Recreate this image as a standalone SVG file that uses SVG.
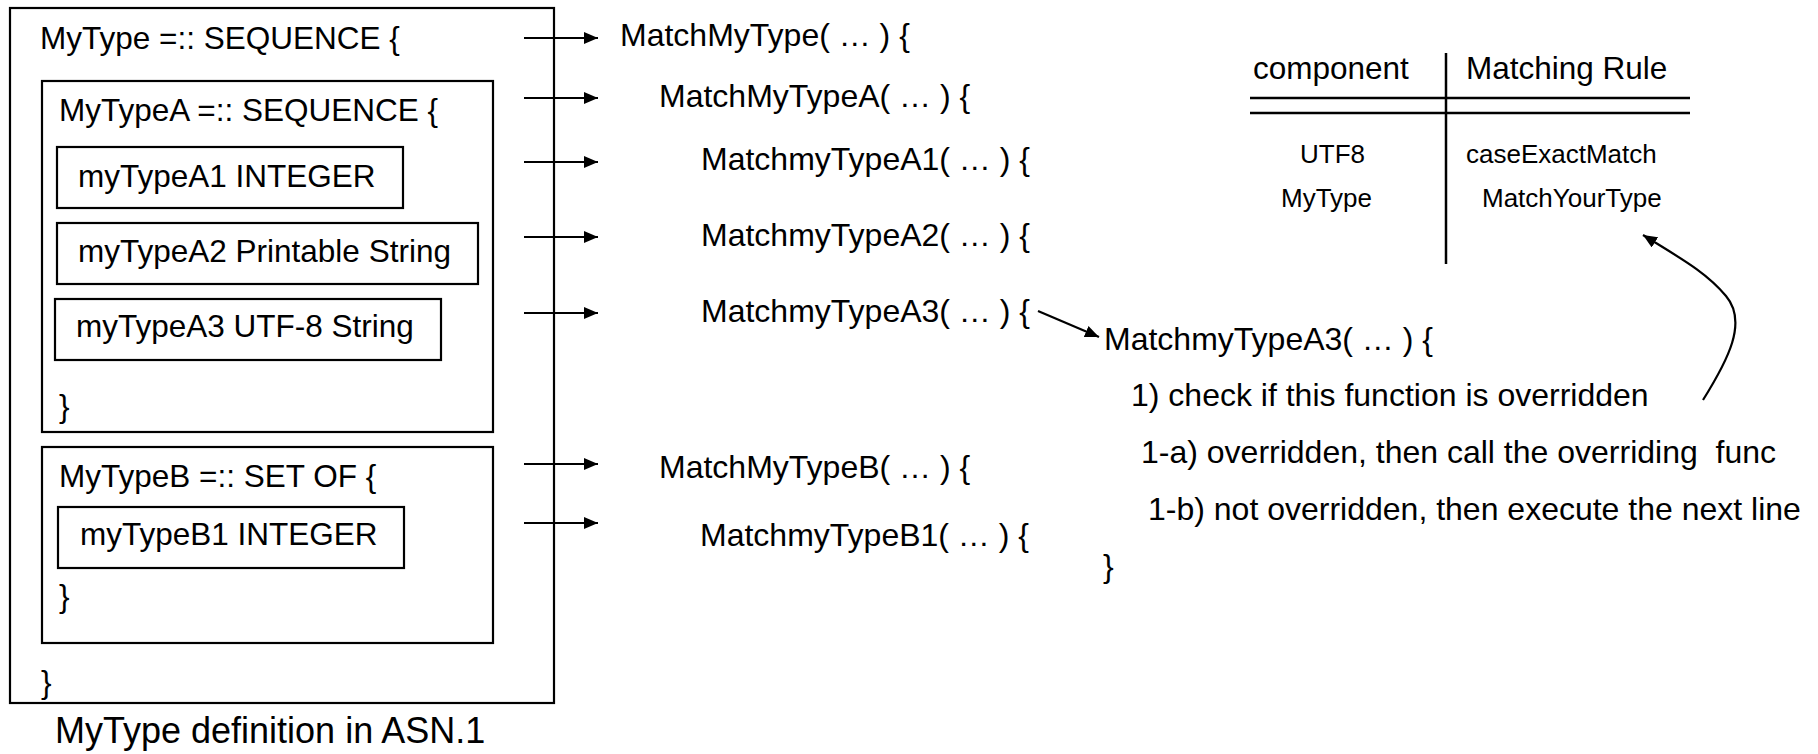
<svg xmlns="http://www.w3.org/2000/svg" width="1818" height="754" viewBox="0 0 1818 754">
<style>
  text { font-family: "Liberation Sans", Arial, sans-serif; fill: #000; }
  .t { font-size: 31.5px; }
  .c { font-size: 32px; }
  .tb { font-size: 26px; }
  .hd { font-size: 31.5px; }
  .lbl { font-size: 36px; }
  .box { fill: #fff; stroke: #000; stroke-width: 2.2; }
  .ln { stroke: #000; stroke-width: 2.5; fill: none; }
  .con { stroke: #000; stroke-width: 2.2; fill: none; }
</style>
<defs>
  <marker id="arr" markerUnits="userSpaceOnUse" viewBox="0 0 14 12" refX="14" refY="6" markerWidth="14" markerHeight="12" orient="auto">
    <path d="M0,0 L14,6 L0,12 Z" fill="#000"/>
  </marker>
</defs>
<rect width="1818" height="754" fill="#fff"/>

<g id="mytype-def">
  <rect class="box" x="10" y="8" width="544" height="695"/>
  <text class="t" x="40" y="49">MyType =:: SEQUENCE {</text>
  <text class="t" x="41" y="693">}</text>
</g>
<g id="mytypeA">
  <rect class="box" x="42" y="81" width="451" height="351"/>
  <text class="t" x="59" y="121">MyTypeA =:: SEQUENCE {</text>
  <text class="t" x="59" y="417">}</text>
</g>
<g id="mytypeA1">
  <rect class="box" x="57" y="147" width="346" height="61"/>
  <text class="t" x="78" y="187">myTypeA1 INTEGER</text>
</g>
<g id="mytypeA2">
  <rect class="box" x="57" y="223" width="421" height="61"/>
  <text class="t" x="78" y="262">myTypeA2 Printable String</text>
</g>
<g id="mytypeA3">
  <rect class="box" x="55" y="299" width="386" height="61"/>
  <text class="t" x="76" y="337">myTypeA3 UTF-8 String</text>
</g>
<g id="mytypeB">
  <rect class="box" x="42" y="447" width="451" height="196"/>
  <text class="t" x="59" y="487">MyTypeB =:: SET OF {</text>
  <text class="t" x="59" y="607">}</text>
</g>
<g id="mytypeB1">
  <rect class="box" x="58" y="507" width="346" height="61"/>
  <text class="t" x="80" y="545">myTypeB1 INTEGER</text>
</g>
<g id="caption">
  <text class="lbl" x="55" y="743">MyType definition in ASN.1</text>
</g>

<g id="match-functions">
  <text class="c" x="620" y="46">MatchMyType( … ) {</text>
  <text class="c" x="659" y="107">MatchMyTypeA( … ) {</text>
  <text class="c" x="701" y="170">MatchmyTypeA1( … ) {</text>
  <text class="c" x="701" y="246">MatchmyTypeA2( … ) {</text>
  <text class="c" x="701" y="322">MatchmyTypeA3( … ) {</text>
  <text class="c" x="659" y="478">MatchMyTypeB( … ) {</text>
  <text class="c" x="700" y="546">MatchmyTypeB1( … ) {</text>
</g>

<g id="matchA3-detail">
  <text class="c" x="1104" y="350">MatchmyTypeA3( … ) {</text>
  <text class="c" x="1131" y="406">1) check if this function is overridden</text>
  <text class="c" x="1141" y="463" style="white-space:pre">1-a) overridden, then call the overriding  func</text>
  <text class="c" x="1148" y="520">1-b) not overridden, then execute the next line</text>
  <text class="c" x="1103" y="577">}</text>
</g>

<g id="rule-table">
  <line class="ln" x1="1446" y1="53" x2="1446" y2="264"/>
  <line class="ln" x1="1250" y1="98" x2="1690" y2="98"/>
  <line class="ln" x1="1250" y1="113" x2="1690" y2="113"/>
  <text class="hd" x="1253" y="79">component</text>
  <text class="hd" x="1466" y="79">Matching Rule</text>
  <text class="tb" x="1300" y="163">UTF8</text>
  <text class="tb" x="1466" y="163">caseExactMatch</text>
  <text class="tb" x="1281" y="207">MyType</text>
  <text class="tb" x="1482" y="207">MatchYourType</text>
</g>

<g id="connectors">
  <line class="con" x1="524" y1="38" x2="598" y2="38" marker-end="url(#arr)"/>
  <line class="con" x1="524" y1="98" x2="598" y2="98" marker-end="url(#arr)"/>
  <line class="con" x1="524" y1="162" x2="598" y2="162" marker-end="url(#arr)"/>
  <line class="con" x1="524" y1="237" x2="598" y2="237" marker-end="url(#arr)"/>
  <line class="con" x1="524" y1="313" x2="598" y2="313" marker-end="url(#arr)"/>
  <line class="con" x1="524" y1="464" x2="598" y2="464" marker-end="url(#arr)"/>
  <line class="con" x1="524" y1="523" x2="598" y2="523" marker-end="url(#arr)"/>
  <line class="con" x1="1038" y1="311" x2="1099" y2="337" marker-end="url(#arr)"/>
  <path class="con" d="M1703,400 C1728,360 1748,322 1726,296 C1706,272 1680,258 1643,235" marker-end="url(#arr)"/>
</g>
</svg>
